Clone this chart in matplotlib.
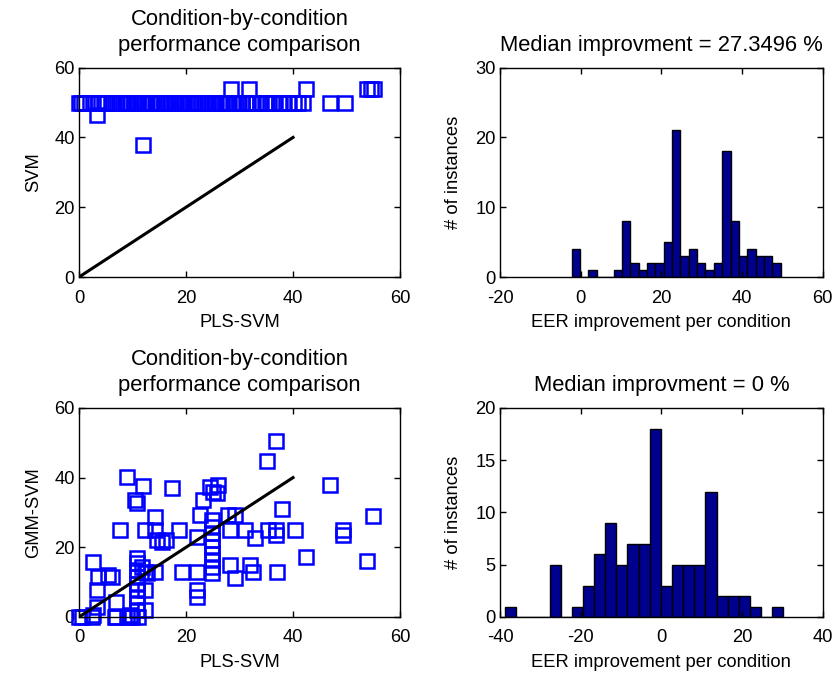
import numpy as np
import matplotlib
matplotlib.use("Agg")
import matplotlib.pyplot as plt

plt.rcParams['font.family'] = ['Liberation Sans', 'DejaVu Sans']
plt.rcParams['font.size'] = 13.2
plt.rcParams['axes.unicode_minus'] = False

# top left: PLS-SVM vs SVM
top_x = [0, 0.3, 1.0, 2.0, 3.6, 4.2, 4.8, 5.3, 6.0, 6.4, 7.1, 7.6, 8.2, 8.7, 9.1,
         9.6, 10.2, 10.7, 11.0, 11.6, 12.1, 12.4, 12.8, 13.2, 13.7, 14.3, 14.6,
         15.2, 15.8, 16.3, 16.6, 17.2, 17.8, 18.1, 18.7, 19.3, 19.6, 20.2, 20.8,
         21.3, 21.7, 22.2, 22.8, 23.3, 23.6, 24.1, 24.7, 25.2, 25.6, 26.3, 26.7,
         27.2, 27.6, 28.1, 28.7, 29.3, 29.9, 30.4, 31.2, 31.6, 32.4, 33.1, 33.9,
         34.8, 35.2, 36.1, 36.6, 37.3, 38.2, 39.0, 40.1, 41.0, 41.8, 47.0, 49.8,
         28.5, 31.8, 42.5, 53.9, 54.5, 55.1, 3.4, 12.0]
top_y = [50] * 75 + [54, 54, 54, 54, 54, 54, 46.3, 37.7]

# bottom left: PLS-SVM vs GMM-SVM
bot_x = [0, 0.5, 2.5, 2.7, 6.7, 7.0, 8.9, 9.9, 11.1, 9.5,
         12.3, 3.3, 10.8, 7.0, 10.8, 10.8, 10.8, 10.8, 10.8, 10.8,
         10.8, 10.8, 12.3, 12.3, 14.2, 3.3, 3.6, 5.5, 6.1, 2.7,
         11.7, 12.7, 19.2, 22.0, 22.0, 22.0, 24.8, 24.8, 24.8, 24.8,
         24.8, 24.8, 24.8, 24.8, 24.8, 28.2, 29.2, 32.0, 32.6, 37.0,
         42.4, 53.8, 7.7, 12.3, 14.2, 18.6, 14.5, 15.5, 16.2, 14.2,
         22.0, 22.6, 23.2, 24.5, 25.1, 26.0, 25.7, 28.2, 27.9, 29.2,
         31.0, 32.9, 35.4, 36.9, 36.9, 40.4, 49.4, 49.4, 37.9, 55.0,
         46.9, 35.1, 36.9, 8.9, 12.0, 10.5, 10.8, 17.3]
bot_y = [0, 0, 0, 0.5, 0, 0, 0, 0, 0, 0.5,
         1.9, 2.9, 1.9, 4.3, 3.9, 5.8, 7.7, 9.6, 11.5, 13.4,
         15.4, 16.8, 7.7, 13.0, 13.0, 7.7, 11.5, 12.0, 11.5, 15.8,
         14.4, 12.5, 13.0, 13.0, 7.7, 5.8, 12.5, 14.4, 16.3, 18.2,
         20.2, 22.1, 24.0, 25.9, 27.8, 14.9, 11.1, 14.9, 13.0, 13.0,
         17.3, 16.1, 25.0, 25.0, 25.0, 25.0, 22.1, 21.6, 22.0, 28.8,
         23.0, 29.3, 33.6, 37.4, 36.0, 37.9, 35.5, 25.0, 29.3, 29.3,
         25.0, 22.6, 25.0, 25.0, 23.5, 25.0, 25.0, 23.5, 30.9, 29.0,
         37.9, 44.9, 50.4, 40.3, 37.6, 33.6, 32.6, 37.0]

# histograms (25 bins each)
hist1_counts = [4, 0, 1, 0, 0, 1, 8, 2, 1, 2, 2, 5, 21, 3, 4, 2, 1, 2, 18, 8, 3, 4, 3, 3, 2]
hist1_range = (-2.23, 49.6)
hist2_counts = [1, 0, 0, 0, 5, 0, 1, 3, 6, 9, 5, 7, 7, 18, 3, 5, 5, 5, 12, 2, 2, 2, 1, 0, 1]
hist2_range = (-38.76, 30.25)


def matlab_axes(ax):
    ax.tick_params(direction='in', top=True, right=True, length=4, width=1, pad=3)
    ax.tick_params(axis='x', pad=9)
    for s in ax.spines.values():
        s.set_linewidth(1.0)
    ax.xaxis.set_label_coords(0.5, -0.175)


fig = plt.figure(figsize=(8.37, 6.81), dpi=100)
ax1 = fig.add_axes([0.0944, 0.5932, 0.3835, 0.3075])
ax2 = fig.add_axes([0.5974, 0.5932, 0.3855, 0.3075])
ax3 = fig.add_axes([0.0944, 0.0940, 0.3835, 0.3070])
ax4 = fig.add_axes([0.5974, 0.0940, 0.3855, 0.3070])

title = 'Condition-by-condition\nperformance comparison'
for ax, xs, ys, yl in [(ax1, top_x, top_y, 'SVM'), (ax3, bot_x, bot_y, 'GMM-SVM')]:
    ax.plot(xs, ys, 's', ms=10, mfc='none', mec='blue', mew=1.8, clip_on=False)
    ax.plot([0, 40], [0, 40], color='black', lw=2.2)
    ax.set_xlim(0, 60)
    ax.set_ylim(0, 60)
    ax.set_xticks([0, 20, 40, 60])
    ax.set_yticks([0, 20, 40, 60])
    ax.set_xlabel('PLS-SVM')
    ax.set_ylabel(yl)
    ax.set_title(title, linespacing=1.3, pad=12)
    matlab_axes(ax)
    ax.yaxis.set_label_coords(-0.115, 0.5)

for ax, counts, rng, lim, yt, med in [
        (ax2, hist1_counts, hist1_range, (-20, 60), [0, 10, 20, 30], '27.3496'),
        (ax4, hist2_counts, hist2_range, (-40, 40), [0, 5, 10, 15, 20], '0')]:
    edges = np.linspace(rng[0], rng[1], len(counts) + 1)
    ax.bar(edges[:-1], counts, width=np.diff(edges), align='edge',
           color='#00008F', edgecolor='black', linewidth=1.0)
    ax.set_xlim(*lim)
    ax.set_ylim(yt[0], yt[-1])
    ax.set_xticks(np.arange(lim[0], lim[1] + 1, 20))
    ax.set_yticks(yt)
    ax.set_xlabel('EER improvement per condition')
    ax.set_ylabel('# of instances')
    ax.set_title('Median improvment = ' + med + ' %', pad=12)
    matlab_axes(ax)
    ax.yaxis.set_label_coords(-0.118, 0.5)

fig.savefig('out.png', dpi=100)
